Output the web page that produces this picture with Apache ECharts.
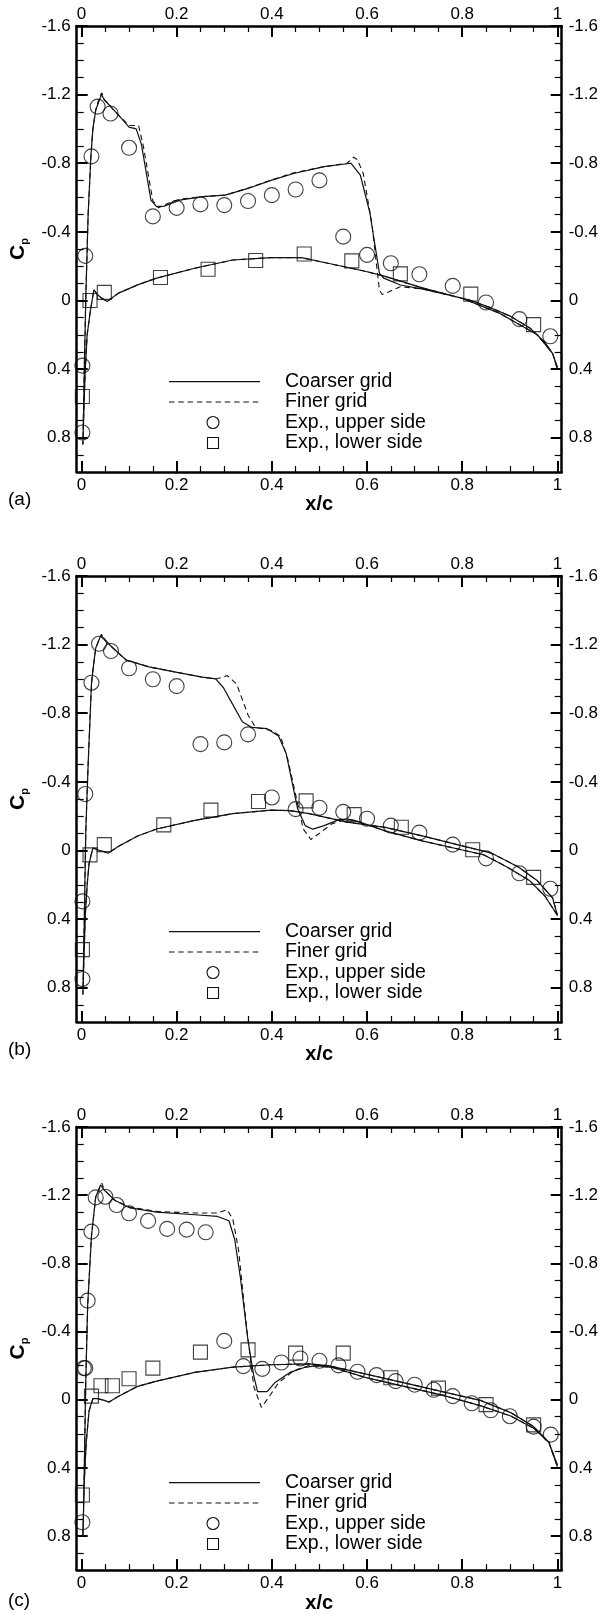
<!DOCTYPE html>
<html>
<head>
<meta charset="utf-8">
<script src="https://cdn.jsdelivr.net/npm/echarts@6/dist/echarts.min.js"></script>
<style>
  html, body { margin: 0; padding: 0; background: #fff; }
  #chart { width: 601px; height: 1614px; }
</style>
</head>
<body>
<div id="chart"></div>
<script>
// ---- tick labels ----
const xTicks = [0, 0.2, 0.4, 0.6, 0.8, 1];
const cpTicks = [-1.6, -1.2, -0.8, -0.4, 0, 0.4, 0.8];
const panelLabels = ['(a)', '(b)', '(c)'];
const seriesNames = ['Coarser grid', 'Finer grid', 'Exp., upper side', 'Exp., lower side'];

// ---- case (a): [x/c, Cp], contour runs TE upper -> LE -> TE lower ----
const coarseA = [
  [1.0,0.39],[0.99,0.31],[0.974,0.245],[0.942,0.16],[0.902,0.093],[0.862,0.045],[0.814,-0.004],
  [0.766,-0.035],[0.718,-0.066],[0.67,-0.09],[0.635,-0.13],[0.626,-0.16],[0.606,-0.51],[0.586,-0.73],
  [0.566,-0.80],[0.51,-0.78],[0.446,-0.74],[0.398,-0.70],[0.35,-0.653],[0.302,-0.614],[0.254,-0.605],
  [0.206,-0.585],[0.174,-0.55],[0.158,-0.547],[0.146,-0.585],[0.126,-0.91],[0.115,-1.0],[0.1,-1.01],
  [0.078,-1.08],[0.048,-1.17],[0.042,-1.2],[0.038,-1.19],[0.03,-1.11],[0.024,-1.0],[0.02,-0.85],
  [0.014,-0.5],[0.009,0.0],[0.006,0.4],[0.004,0.7],[0.003,0.84],
  [0.005,0.65],[0.008,0.4],[0.012,0.2],[0.018,0.074],[0.026,-0.062],[0.034,-0.033],[0.042,-0.014],
  [0.054,0.006],[0.078,-0.043],[0.118,-0.091],[0.158,-0.13],[0.238,-0.188],[0.318,-0.236],
  [0.398,-0.25],[0.462,-0.25],[0.518,-0.217],[0.598,-0.169],[0.638,-0.14],[0.718,-0.072],
  [0.798,-0.014],[0.878,0.074],[0.958,0.2],[0.99,0.31],[1.0,0.40]
];
const fineA = [
  [1.0,0.39],[0.99,0.31],[0.974,0.245],[0.942,0.16],[0.902,0.093],[0.862,0.045],[0.814,-0.004],
  [0.766,-0.035],[0.718,-0.066],[0.67,-0.08],[0.645,-0.05],[0.632,-0.035],[0.626,-0.06],[0.61,-0.45],
  [0.592,-0.74],[0.58,-0.82],[0.572,-0.835],[0.558,-0.80],[0.51,-0.78],[0.446,-0.745],[0.398,-0.70],
  [0.35,-0.655],[0.302,-0.614],[0.254,-0.605],[0.206,-0.59],[0.176,-0.56],[0.162,-0.54],[0.15,-0.58],
  [0.13,-0.9],[0.12,-1.02],[0.1,-1.02],[0.078,-1.08],[0.048,-1.17],[0.043,-1.21],[0.038,-1.19],
  [0.03,-1.11],[0.024,-1.0],[0.02,-0.85],[0.014,-0.5],[0.009,0.0],[0.006,0.4],[0.004,0.7],[0.003,0.84],
  [0.005,0.65],[0.008,0.4],[0.012,0.2],[0.018,0.074],[0.026,-0.062],[0.034,-0.033],[0.042,-0.014],
  [0.054,0.006],[0.078,-0.043],[0.118,-0.091],[0.158,-0.13],[0.238,-0.188],[0.318,-0.236],
  [0.398,-0.25],[0.462,-0.25],[0.518,-0.217],[0.598,-0.169],[0.638,-0.14],[0.718,-0.072],
  [0.798,-0.014],[0.878,0.074],[0.958,0.2],[0.99,0.31],[1.0,0.40]
];
const upperA = [
  [0.002,0.38],[0.002,0.77],[0.008,-0.26],[0.021,-0.84],[0.034,-1.13],[0.061,-1.09],[0.1,-0.89],
  [0.15,-0.49],[0.2,-0.54],[0.25,-0.56],[0.3,-0.556],[0.35,-0.58],[0.4,-0.614],[0.45,-0.647],
  [0.5,-0.70],[0.55,-0.372],[0.6,-0.266],[0.65,-0.217],[0.71,-0.153],[0.78,-0.085],[0.85,0.012],
  [0.92,0.109],[0.985,0.209]
];
const lowerA = [
  [0.002,0.56],[0.018,0.0],[0.048,-0.047],[0.166,-0.134],[0.266,-0.182],[0.366,-0.233],
  [0.468,-0.271],[0.568,-0.231],[0.67,-0.155],[0.818,-0.037],[0.95,0.141]
];

// ---- case (b) ----
const coarseB = [
  [1.0,0.378],[0.974,0.267],[0.942,0.177],[0.894,0.096],[0.846,0.026],[0.798,-0.004],[0.718,-0.054],
  [0.638,-0.114],[0.574,-0.175],[0.542,-0.181],[0.51,-0.145],[0.486,-0.124],[0.47,-0.145],
  [0.454,-0.245],[0.442,-0.406],[0.43,-0.566],[0.414,-0.667],[0.39,-0.71],[0.358,-0.717],
  [0.338,-0.75],[0.318,-0.85],[0.298,-0.95],[0.282,-1.0],[0.254,-1.01],[0.198,-1.04],[0.142,-1.07],
  [0.094,-1.11],[0.07,-1.17],[0.048,-1.23],[0.04,-1.25],[0.03,-1.18],[0.024,-1.05],[0.021,-0.97],
  [0.014,-0.5],[0.009,-0.1],[0.006,0.4],[0.004,0.7],[0.003,0.84],
  [0.005,0.65],[0.008,0.38],[0.012,0.2],[0.016,0.076],[0.024,-0.014],[0.034,-0.004],[0.046,0.006],
  [0.056,0.016],[0.078,-0.024],[0.118,-0.084],[0.158,-0.125],[0.238,-0.175],[0.318,-0.215],
  [0.398,-0.235],[0.438,-0.232],[0.478,-0.215],[0.558,-0.165],[0.638,-0.135],[0.718,-0.084],
  [0.798,-0.028],[0.862,0.016],[0.918,0.096],[0.958,0.177],[0.99,0.277],[1.0,0.378]
];
const fineB = [
  [1.0,0.378],[0.974,0.267],[0.942,0.177],[0.894,0.096],[0.846,0.026],[0.798,-0.004],[0.718,-0.054],
  [0.638,-0.114],[0.574,-0.175],[0.558,-0.185],[0.526,-0.155],[0.502,-0.104],[0.482,-0.064],
  [0.466,-0.125],[0.45,-0.325],[0.434,-0.526],[0.418,-0.667],[0.398,-0.70],[0.366,-0.717],
  [0.35,-0.79],[0.326,-0.97],[0.306,-1.02],[0.298,-1.01],[0.282,-1.0],[0.254,-1.01],[0.198,-1.04],
  [0.142,-1.07],[0.094,-1.11],[0.07,-1.17],[0.048,-1.23],[0.042,-1.26],[0.03,-1.18],[0.024,-1.05],
  [0.021,-0.97],[0.014,-0.5],[0.009,-0.1],[0.006,0.4],[0.004,0.7],[0.003,0.84],
  [0.005,0.65],[0.008,0.38],[0.012,0.2],[0.016,0.076],[0.024,-0.014],[0.034,-0.004],[0.046,0.006],
  [0.056,0.016],[0.078,-0.024],[0.118,-0.084],[0.158,-0.125],[0.238,-0.175],[0.318,-0.215],
  [0.398,-0.235],[0.438,-0.232],[0.478,-0.215],[0.558,-0.165],[0.638,-0.135],[0.718,-0.084],
  [0.798,-0.028],[0.862,0.016],[0.918,0.096],[0.958,0.177],[0.99,0.277],[1.0,0.378]
];
const upperB = [
  [0.002,0.297],[0.002,0.749],[0.008,-0.329],[0.021,-0.978],[0.037,-1.205],[0.062,-1.163],
  [0.1,-1.062],[0.15,-0.998],[0.2,-0.958],[0.25,-0.62],[0.3,-0.63],[0.35,-0.677],[0.4,-0.309],
  [0.45,-0.241],[0.5,-0.249],[0.55,-0.225],[0.6,-0.185],[0.65,-0.145],[0.71,-0.104],[0.78,-0.034],
  [0.85,0.046],[0.92,0.133],[0.985,0.223]
];
const lowerB = [
  [0.002,0.578],[0.018,0.026],[0.048,-0.034],[0.173,-0.149],[0.272,-0.235],[0.372,-0.285],
  [0.472,-0.289],[0.573,-0.209],[0.672,-0.135],[0.822,-0.004],[0.95,0.157]
];

// ---- case (c) ----
const coarseC = [
  [1.0,0.384],[0.982,0.25],[0.95,0.168],[0.902,0.096],[0.838,0.035],[0.758,-0.027],[0.678,-0.078],
  [0.598,-0.129],[0.526,-0.19],[0.494,-0.2],[0.47,-0.19],[0.438,-0.16],[0.406,-0.099],[0.39,-0.047],
  [0.37,-0.047],[0.362,-0.14],[0.35,-0.345],[0.334,-0.715],[0.322,-0.94],[0.31,-1.05],[0.286,-1.075],
  [0.238,-1.085],[0.158,-1.10],[0.102,-1.125],[0.07,-1.17],[0.048,-1.23],[0.04,-1.26],[0.03,-1.19],
  [0.021,-0.96],[0.013,-0.55],[0.009,-0.1],[0.006,0.4],[0.004,0.7],[0.003,0.8],
  [0.006,0.476],[0.01,0.25],[0.016,0.066],[0.024,-0.006],[0.034,-0.006],[0.048,0.004],[0.058,0.014],
  [0.078,-0.02],[0.118,-0.078],[0.158,-0.109],[0.238,-0.16],[0.318,-0.191],[0.398,-0.205],
  [0.478,-0.21],[0.518,-0.2],[0.598,-0.15],[0.678,-0.099],[0.758,-0.047],[0.838,0.004],
  [0.902,0.076],[0.95,0.158],[0.982,0.25],[1.0,0.394]
];
const fineC = [
  [1.0,0.384],[0.982,0.25],[0.95,0.168],[0.902,0.096],[0.838,0.035],[0.758,-0.027],[0.678,-0.078],
  [0.598,-0.129],[0.526,-0.19],[0.478,-0.2],[0.446,-0.17],[0.414,-0.099],[0.394,-0.016],
  [0.378,0.045],[0.362,-0.078],[0.346,-0.448],[0.33,-0.88],[0.318,-1.06],[0.306,-1.115],
  [0.286,-1.095],[0.238,-1.095],[0.158,-1.105],[0.102,-1.13],[0.07,-1.17],[0.048,-1.23],
  [0.043,-1.27],[0.03,-1.19],[0.021,-0.96],[0.013,-0.55],[0.009,-0.1],[0.006,0.4],[0.004,0.7],
  [0.003,0.8],
  [0.006,0.476],[0.01,0.25],[0.016,0.066],[0.024,-0.006],[0.034,-0.006],[0.048,0.004],[0.058,0.014],
  [0.078,-0.02],[0.118,-0.078],[0.158,-0.109],[0.238,-0.16],[0.318,-0.191],[0.398,-0.205],
  [0.478,-0.21],[0.518,-0.2],[0.598,-0.15],[0.678,-0.099],[0.758,-0.047],[0.838,0.004],
  [0.902,0.076],[0.95,0.158],[0.982,0.25],[1.0,0.394]
];
const upperC = [
  [0.002,0.719],[0.005,-0.185],[0.008,-0.185],[0.013,-0.581],[0.021,-0.986],[0.03,-1.187],
  [0.05,-1.191],[0.074,-1.142],[0.1,-1.094],[0.14,-1.049],[0.18,-1.002],[0.221,-0.998],
  [0.261,-0.982],[0.3,-0.345],[0.34,-0.197],[0.38,-0.181],[0.42,-0.218],[0.46,-0.242],[0.5,-0.228],
  [0.54,-0.201],[0.58,-0.164],[0.62,-0.144],[0.66,-0.109],[0.7,-0.088],[0.74,-0.058],[0.78,-0.021],
  [0.82,0.021],[0.86,0.062],[0.9,0.097],[0.95,0.158],[0.986,0.205]
];
const lowerC = [
  [0.002,0.559],[0.021,-0.021],[0.041,-0.082],[0.065,-0.082],[0.1,-0.123],[0.15,-0.185],
  [0.25,-0.279],[0.35,-0.292],[0.45,-0.273],[0.55,-0.273],[0.65,-0.129],[0.75,-0.068],
  [0.85,0.029],[0.95,0.148]
];

const panels = [
  { coarse: coarseA, fine: fineA, upper: upperA, lower: lowerA },
  { coarse: coarseB, fine: fineB, upper: upperB, lower: lowerB },
  { coarse: coarseC, fine: fineC, upper: upperC, lower: lowerC }
];

// ---- layout ----
const FONT = '"Liberation Sans", Arial, Helvetica, sans-serif';
const INK = '#111';
const gridTops = [26, 576, 1127];
const GRID_LEFT = 72, GRID_W = 490, GRID_H = 446;
const X_MIN = -0.01, X_MAX = 1.009, CP_MIN = -1.6, CP_MAX = 1.0;

const LINE_W = 1.2, DASH = [5.5, 3.8];
const MARK_STYLE = { color: 'rgba(255,255,255,0)', borderColor: INK, borderWidth: 1.1 };

// minor tick positions
const xMinor = [];
for (let k = 1; k < 20; k++) if (k % 4) xMinor.push(+(k * 0.05).toFixed(2));
const cpMinor = [];
for (let k = -15; k < 10; k++) if (k % 4) cpMinor.push(+(k * 0.1).toFixed(1));

const fmt = v => String(+(+v).toFixed(2));

function xAxisDef(g, pos, major) {
  return {
    gridIndex: g, type: 'value', position: pos, min: X_MIN, max: X_MAX,
    axisLine: { show: major, onZero: false, lineStyle: { color: '#000', width: 2.5 } },
    axisTick: {
      show: true, inside: true, length: major ? 11 : 6,
      customValues: major ? xTicks : xMinor,
      lineStyle: { color: '#000', width: major ? 2 : 1.2 }
    },
    axisLabel: major ? {
      show: true, customValues: xTicks, formatter: fmt, margin: pos === 'top' ? 3 : 5,
      fontSize: 17, fontFamily: FONT, color: '#000'
    } : { show: false },
    splitLine: { show: false },
    name: (major && pos === 'bottom') ? 'x/c' : '',
    nameLocation: 'middle', nameGap: 21,
    nameTextStyle: { fontSize: 20, fontWeight: 'bold', fontFamily: FONT, color: '#000' }
  };
}

function yAxisDef(g, pos, major) {
  return {
    gridIndex: g, type: 'value', position: pos, inverse: true, min: CP_MIN, max: CP_MAX,
    axisLine: { show: major, onZero: false, lineStyle: { color: '#000', width: 2.5 } },
    axisTick: {
      show: true, inside: true, length: major ? 11 : 7,
      customValues: major ? cpTicks : cpMinor,
      lineStyle: { color: '#000', width: major ? 2 : 1.2 }
    },
    axisLabel: major ? {
      show: true, customValues: cpTicks, formatter: fmt, margin: pos === 'left' ? 6 : 7,
      fontSize: 17, fontFamily: FONT, color: '#000'
    } : { show: false },
    splitLine: { show: false },
    name: (major && pos === 'left') ? '{c|C}{p|p}' : '',
    nameLocation: 'middle', nameGap: 40,
    nameTextStyle: {
      color: '#000',
      rich: {
        c: { fontSize: 21, fontWeight: 'bold', fontFamily: FONT, lineHeight: 24 },
        p: { fontSize: 11, fontWeight: 'bold', fontFamily: FONT, lineHeight: 11, verticalAlign: 'bottom' }
      }
    }
  };
}

// key drawn inside each panel: line samples / markers on the left, names on the right
function keyFor(top) {
  const rows = [355.7, 376, 396.5, 417].map(d => top + d);
  const x0 = 169, x1 = 260, xm = 213, xt = 285;
  const els = [
    { type: 'line', shape: { x1: x0, y1: rows[0], x2: x1, y2: rows[0] },
      style: { stroke: INK, lineWidth: LINE_W } },
    { type: 'line', shape: { x1: x0, y1: rows[1], x2: x1, y2: rows[1] },
      style: { stroke: INK, lineWidth: 1.1, lineDash: DASH } },
    { type: 'circle', shape: { cx: xm, cy: rows[2], r: 6 },
      style: { fill: 'none', stroke: INK, lineWidth: 1.1 } },
    { type: 'rect', shape: { x: xm - 5.5, y: rows[3] - 5.5, width: 11, height: 11 },
      style: { fill: 'none', stroke: INK, lineWidth: 1.1 } }
  ];
  seriesNames.forEach((name, i) => {
    els.push({ type: 'text', x: xt, y: rows[i],
      style: { text: name, fontSize: 19.5, fontFamily: FONT, fill: '#000', verticalAlign: 'middle' } });
  });
  return els;
}

const grid = [], xAxis = [], yAxis = [], series = [], graphic = [];

panels.forEach((p, g) => {
  const top = gridTops[g];
  grid.push({ left: GRID_LEFT, top: top, width: GRID_W, height: GRID_H });

  const xi = xAxis.length, yi = yAxis.length;
  xAxis.push(xAxisDef(g, 'bottom', true), xAxisDef(g, 'top', true),
             xAxisDef(g, 'bottom', false), xAxisDef(g, 'top', false));
  yAxis.push(yAxisDef(g, 'left', true), yAxisDef(g, 'right', true),
             yAxisDef(g, 'left', false), yAxisDef(g, 'right', false));

  series.push(
    { name: seriesNames[0], type: 'line', xAxisIndex: xi, yAxisIndex: yi, data: p.coarse,
      symbol: 'none', showSymbol: false, lineStyle: { color: INK, width: LINE_W } },
    { name: seriesNames[1], type: 'line', xAxisIndex: xi, yAxisIndex: yi, data: p.fine,
      symbol: 'none', showSymbol: false, lineStyle: { color: INK, width: 1.1, type: DASH } },
    { name: seriesNames[2], type: 'scatter', xAxisIndex: xi, yAxisIndex: yi, data: p.upper,
      symbol: 'circle', symbolSize: 15, itemStyle: MARK_STYLE },
    { name: seriesNames[3], type: 'scatter', xAxisIndex: xi, yAxisIndex: yi, data: p.lower,
      symbol: 'rect', symbolSize: 14, itemStyle: MARK_STYLE }
  );

  graphic.push(...keyFor(top));
  graphic.push({
    type: 'text', left: 8, top: top + GRID_H + 18,
    style: { text: panelLabels[g], fontSize: 19, fontFamily: FONT, fill: '#000' }
  });
});

const chart = echarts.init(document.getElementById('chart'), null, { renderer: 'canvas' });
chart.setOption({
  animation: false,
  backgroundColor: '#fff',
  grid, xAxis, yAxis, series, graphic
});
</script>
</body>
</html>
